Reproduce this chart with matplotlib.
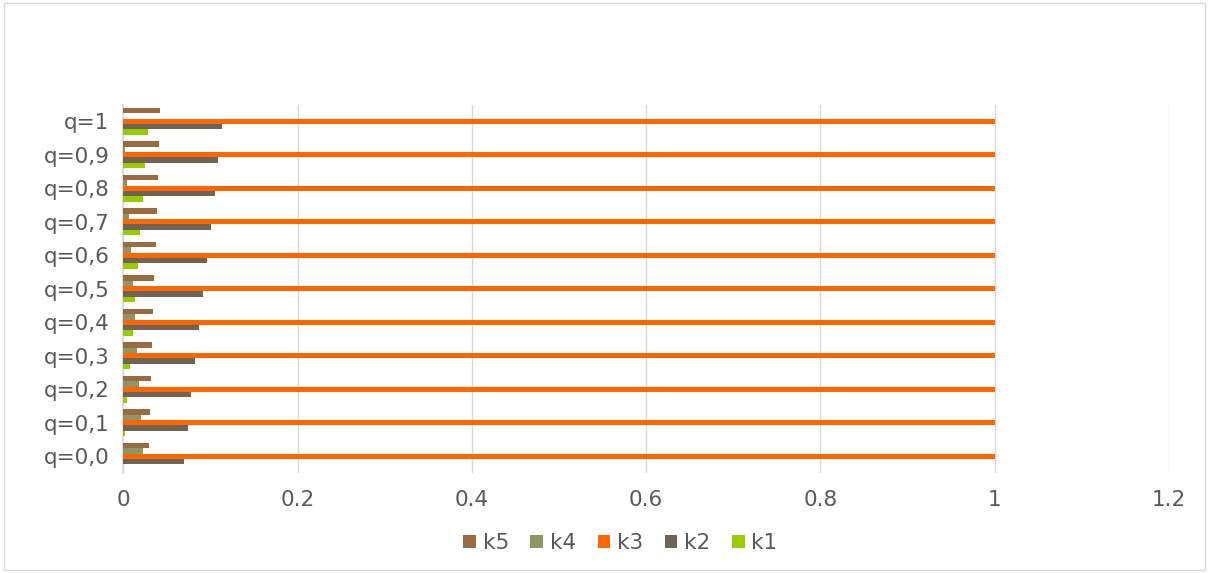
import numpy as np
import matplotlib.pyplot as plt
from matplotlib.patches import Rectangle

categories = ["q=0,0", "q=0,1", "q=0,2", "q=0,3", "q=0,4", "q=0,5",
              "q=0,6", "q=0,7", "q=0,8", "q=0,9", "q=1"]

k1 = [0.0, 0.0019, 0.0046, 0.0077, 0.0108, 0.0134, 0.0165, 0.019, 0.0225, 0.025, 0.0287]
k2 = [0.069, 0.074, 0.0777, 0.082, 0.0865, 0.091, 0.0955, 0.100, 0.105, 0.109, 0.113]
k3 = [1.0] * 11
k4 = [0.023, 0.0203, 0.0184, 0.016, 0.013, 0.0108, 0.0085, 0.0063, 0.004, 0.002, 0.0]
k5 = [0.029, 0.0303, 0.0314, 0.033, 0.0344, 0.0356, 0.0375, 0.039, 0.0395, 0.041, 0.0425]

series = [("k1", k1, "#99CC00"), ("k2", k2, "#6F6353"), ("k3", k3, "#FF6600"),
          ("k4", k4, "#8F9664"), ("k5", k5, "#9A6A40")]

fig = plt.figure(figsize=(12.09, 5.73), dpi=100)
ax = fig.add_axes([0.1021, 0.1745, 0.8648, 0.6431])

y = np.arange(len(categories))
h = 0.16
handles = []
for i, (name, vals, color) in enumerate(series):
    b = ax.barh(y + (i - 2) * h, vals, height=h, color=color, label=name, zorder=3)
    handles.append(b)

ax.set_xlim(0, 1.2)
ax.set_ylim(-0.5, len(categories) - 0.5)
ax.set_xticks(np.arange(0, 1.21, 0.2))
ax.set_xticklabels(["0", "0.2", "0.4", "0.6", "0.8", "1", "1.2"])
ax.set_yticks(y)
ax.set_yticklabels(categories)
ax.grid(axis="x", color="#D9D9D9", linewidth=1, zorder=0)
for side in ["top", "right", "bottom"]:
    ax.spines[side].set_visible(False)
ax.spines["left"].set_color("#D9D9D9")
ax.spines["left"].set_linewidth(1.2)
ax.tick_params(length=0, labelsize=15.5, labelcolor="#595959", pad=10)
ax.tick_params(axis="x", pad=12)

fig.legend(handles[::-1], [s[0] for s in series][::-1], loc="center",
           bbox_to_anchor=(0.513, 0.052), ncol=5, frameon=False, fontsize=15.5,
           labelcolor="#595959", handlelength=0.6, handleheight=0.6,
           handletextpad=0.3, columnspacing=1.0)

fig.patches.append(Rectangle((0.003, 0.005), 0.994, 0.99, transform=fig.transFigure,
                             fill=False, edgecolor="#D9D9D9", linewidth=1))

fig.savefig("out.png", dpi=100)
